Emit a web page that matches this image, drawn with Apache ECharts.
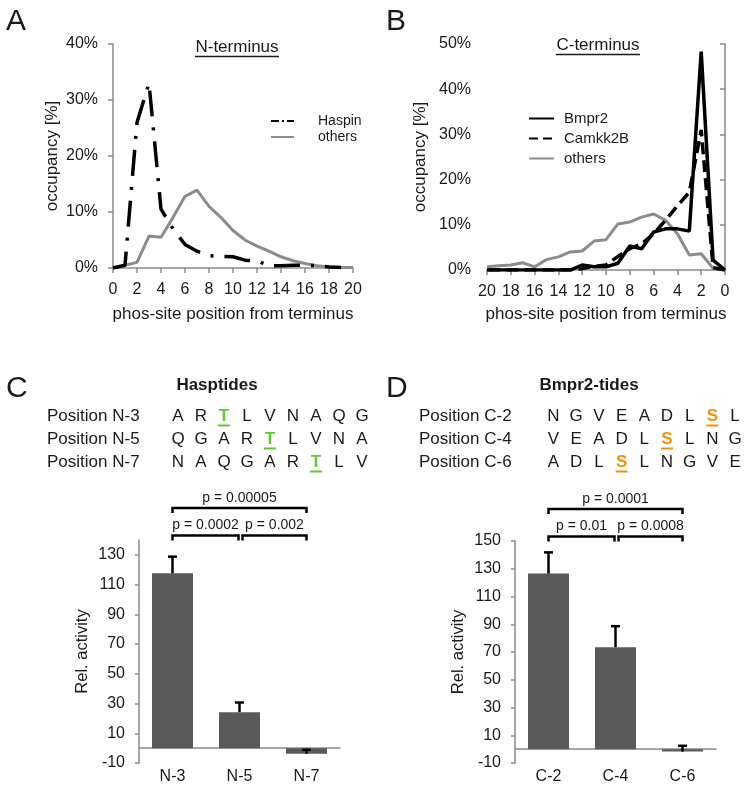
<!DOCTYPE html>
<html><head><meta charset="utf-8">
<script src="https://cdn.jsdelivr.net/npm/echarts@6/dist/echarts.min.js"></script>
<style>html,body{margin:0;padding:0;background:#fff}#c{width:750px;height:787px}</style>
</head><body><div id="c"></div>
<script>
// ---------- DATA ----------
// Panel A (N-terminus): phos-site position 0..20
const nPositions = [0,1,2,3,4,5,6,7,8,9,10,11,12,13,14,15,16,17,18,19,20];
const haspinOccupancy = [0,0.5,26,33,10.5,7,4.2,3,2.2,2.1,2.0,1.4,1.3,0.4,0.4,0.5,0.5,0.4,0.2,0.1];
const othersNOccupancy = [0,0.5,1,5.7,5.5,9,12.8,13.9,11,9,6.7,5,3.9,3,2,1.3,0.8,0.4,0.2,0.1,0.1];
// Panel B (C-terminus): phos-site position 0..20
const cPositions = [0,1,2,3,4,5,6,7,8,9,10,11,12,13,14,15,16,17,18,19,20];
const bmpr2Occupancy = [0,2.2,48.3,8.6,9.1,9.1,8.4,4.7,5.3,1.5,0.7,0.7,1.1,0,0,0,0,0,0,0,0];
const camkk2bOccupancy = [0,0.5,31,17.2,14.2,11,8,5.8,4.7,3,1.1,0.8,0.3,0,0,0,0,0,0,0,0];
const othersCOccupancy = [0,0.4,3.6,3.3,8,11,12.4,11.7,10.6,10.2,6.7,6.4,4.2,4,2.9,2.3,0.7,1.6,1.1,0.95,0.7];
// Panel C (Hasptides)
const hasptideCats = ['N-3','N-5','N-7'];
const hasptideActivity = [117.6,24.2,-3.8];
const hasptideError = [11.2,6.5,2.7];
const hasptideBrackets = [[0,2],[0,1],[1,2]];
const hasptidePValues = ['p = 0.00005','p = 0.0002','p = 0.002'];
const hasptideRowLabels = ['Position N-3','Position N-5','Position N-7'];
const hasptideSeqs = ['ARTLVNAQG','QGARTLVNA','NAQGARTLV'];
const hasptideSite = [2,4,6];
// Panel D (Bmpr2-tides)
const bmprCats = ['C-2','C-4','C-6'];
const bmprActivity = [126.5,73.5,-1.8];
const bmprError = [15.3,15.1,4.2];
const bmprBrackets = [[0,2],[0,1],[1,2]];
const bmprPValues = ['p = 0.0001','p = 0.01','p = 0.0008'];
const bmprRowLabels = ['Position C-2','Position C-4','Position C-6'];
const bmprSeqs = ['NGVEADLSL','VEADLSLNG','ADLSLNGVE'];
const bmprSite = [7,5,3];
// tick labels
const barTicksC = [-10,10,30,50,70,90,110,130];

// ---------- STYLE ----------
const FONT = 'Liberation Sans, Arial, sans-serif';
const AX = '#8a8a8a';
const TXT = '#1a1a1a';
const GRAYLINE = '#8c8c8c';
const BAR = '#595959';

function pairs(xs, ys){ return ys.map((v,i)=>[xs[i], v]); }

function errRenderer(params, api){
  const i = api.value(0), v = api.value(1), e = api.value(2);
  const p0 = api.coord([i, v]), p1 = api.coord([i, v+e]);
  return {type:'group', children:[
    {type:'line', shape:{x1:p0[0],y1:p0[1],x2:p1[0],y2:p1[1]}, style:{stroke:'#000',lineWidth:2.5}},
    {type:'line', shape:{x1:p1[0]-4.5,y1:p1[1],x2:p1[0]+4.5,y2:p1[1]}, style:{stroke:'#000',lineWidth:2.5}}
  ]};
}
function bracketRenderer(labels){
  return function(params, api){
    const a = api.value(0), b = api.value(1);
    const top = params.coordSys.y;
    const span = b - a;
    const yLine = span > 1 ? top - 32 : top - 4.5;
    let xa = api.coord([a, 0])[0], xb = api.coord([b, 0])[0];
    if (span === 1) { if (a > 0) xa += 3; else xb -= 1; }
    return {type:'group', children:[
      {type:'polyline', shape:{points:[[xa,yLine+5],[xa,yLine],[xb,yLine],[xb,yLine+5]]},
        style:{stroke:'#000',lineWidth:2.5,fill:null}},
      {type:'text', style:{text:labels[params.dataIndex], x:(xa+xb)/2, y:yLine-10,
        align:'center', verticalAlign:'middle', font:'14px '+FONT, fill:TXT}}
    ]};
  };
}

// sequence graphics
function seqGraphics(title, titleX, labelX, colX0, colStep, rowLabels, seqs, sites, hl){
  const els = [];
  els.push({type:'text', style:{text:title, x:titleX, y:385, align:'center', verticalAlign:'middle',
    font:'bold 17px '+FONT, fill:TXT}});
  const rowsY = [416.5, 439.5, 462.5];
  rowLabels.forEach((lab, r) => {
    els.push({type:'text', style:{text:lab, x:labelX, y:rowsY[r], align:'left', verticalAlign:'middle',
      font:'17px '+FONT, fill:TXT}});
    seqs[r].split('').forEach((ch, k) => {
      const x = colX0 + k*colStep;
      const isSite = k === sites[r];
      els.push({type:'text', style:{text:ch, x:x, y:rowsY[r], align:'center', verticalAlign:'middle',
        font:(isSite?'bold ':'')+'17px '+FONT, fill:isSite?hl:TXT}});
      if (isSite) els.push({type:'line', shape:{x1:x-6,y1:rowsY[r]+9,x2:x+6,y2:rowsY[r]+9},
        style:{stroke:hl,lineWidth:2}});
    });
  });
  return els;
}

const graphics = [
  {type:'text', style:{text:'A', x:6, y:22, verticalAlign:'middle', font:'30px '+FONT, fill:TXT}},
  {type:'text', style:{text:'B', x:386, y:22, verticalAlign:'middle', font:'30px '+FONT, fill:TXT}},
  {type:'text', style:{text:'C', x:6, y:389, verticalAlign:'middle', font:'30px '+FONT, fill:TXT}},
  {type:'text', style:{text:'D', x:386, y:389, verticalAlign:'middle', font:'30px '+FONT, fill:TXT}},
  {type:'text', style:{text:'N-terminus', x:237, y:47, align:'center', verticalAlign:'middle', font:'17px '+FONT, fill:TXT}},
  {type:'line', shape:{x1:195,y1:56.5,x2:279,y2:56.5}, style:{stroke:TXT,lineWidth:1.5}},
  {type:'text', style:{text:'C-terminus', x:598, y:45, align:'center', verticalAlign:'middle', font:'17px '+FONT, fill:TXT}},
  {type:'line', shape:{x1:556,y1:54.5,x2:640,y2:54.5}, style:{stroke:TXT,lineWidth:1.5}}
].concat(
  seqGraphics('Hasptides', 217, 47, 178, 23.0, hasptideRowLabels, hasptideSeqs, hasptideSite, '#5fc832'),
  seqGraphics('Bmpr2-tides', 589, 419, 553.5, 22.7, bmprRowLabels, bmprSeqs, bmprSite, '#f0900f')
);

const axisLine = {lineStyle:{color:AX, width:1.5}};
const tickStyle = {lineStyle:{color:AX, width:1.5}};
const lblStyle = {color:TXT, fontSize:16, fontFamily:FONT};
const nameStyle = {color:TXT, fontSize:17, fontFamily:FONT};
const hideSym = {opacity:0, color:'rgba(0,0,0,0)', borderWidth:0};

const option = {
  animation:false,
  backgroundColor:'#fff',
  textStyle:{fontFamily:FONT},
  grid:[
    {left:113, top:44, width:240, height:224, outerBoundsMode:'none', containLabel:false},
    {left:487, top:44, width:238, height:226, outerBoundsMode:'none', containLabel:false},
    {left:139, top:540, width:201, height:223, outerBoundsMode:'none', containLabel:false},
    {left:515, top:541, width:201, height:222, outerBoundsMode:'none', containLabel:false}
  ],
  legend:[
    {left:265, top:109, orient:'vertical', itemWidth:23, itemHeight:14, itemGap:2, selectedMode:false,
      itemStyle:hideSym,
      textStyle:{color:TXT, fontSize:14, fontFamily:FONT, padding:[0,0,0,19]},
      data:[{name:'Haspin', lineStyle:{type:[8,3,2,3]}}, {name:'others'}]},
    {left:523, top:106, orient:'vertical', itemWidth:25, itemHeight:14, itemGap:5, selectedMode:false,
      itemStyle:hideSym,
      textStyle:{color:TXT, fontSize:15, fontFamily:FONT, padding:[0,0,0,5]},
      data:[{name:'Bmpr2'}, {name:'Camkk2B', lineStyle:{type:[9,5]}}, {name:'others'}]}
  ],
  xAxis:[
    {gridIndex:0, type:'value', min:0, max:20, interval:2, splitLine:{show:false},
      axisLine:axisLine, axisTick:Object.assign({length:5}, tickStyle), axisLabel:Object.assign({margin:14}, lblStyle),
      name:'phos-site position from terminus', nameLocation:'middle', nameGap:38, nameTextStyle:nameStyle},
    {gridIndex:1, type:'value', min:0, max:20, interval:2, inverse:true, splitLine:{show:false},
      axisLine:axisLine, axisTick:Object.assign({length:5}, tickStyle), axisLabel:Object.assign({margin:14}, lblStyle),
      name:'phos-site position from terminus', nameLocation:'middle', nameGap:36, nameTextStyle:nameStyle},
    {gridIndex:2, type:'category', data:hasptideCats,
      axisLine:Object.assign({onZero:true}, axisLine), axisTick:Object.assign({length:6}, tickStyle),
      axisLabel:Object.assign({margin:6}, lblStyle)},
    {gridIndex:3, type:'category', data:bmprCats,
      axisLine:Object.assign({onZero:true}, axisLine), axisTick:Object.assign({length:6}, tickStyle),
      axisLabel:Object.assign({margin:6}, lblStyle)}
  ],
  yAxis:[
    {gridIndex:0, type:'value', min:0, max:40, interval:10, splitLine:{show:false},
      axisLine:Object.assign({show:true}, axisLine), axisTick:Object.assign({show:true, length:5}, tickStyle),
      axisLabel:Object.assign({margin:15, formatter:'{value}%'}, lblStyle),
      name:'occupancy [%]', nameLocation:'middle', nameGap:52, nameTextStyle:nameStyle},
    {gridIndex:1, type:'value', min:0, max:50, interval:10, splitLine:{show:false},
      axisLine:Object.assign({show:true}, axisLine), axisTick:Object.assign({show:true, length:5}, tickStyle),
      axisLabel:Object.assign({margin:16, formatter:'{value}%'}, lblStyle),
      name:'occupancy [%]', nameLocation:'middle', nameGap:58, nameTextStyle:nameStyle},
    {gridIndex:2, type:'value', min:-10, max:140, interval:20, splitLine:{show:false},
      axisLine:Object.assign({show:true}, axisLine),
      axisTick:Object.assign({show:true, length:4, customValues:barTicksC}, tickStyle),
      axisLabel:Object.assign({margin:14, customValues:barTicksC}, lblStyle),
      name:'Rel. activity', nameLocation:'middle', nameGap:48, nameTextStyle:Object.assign({}, nameStyle, {fontSize:16.5})},
    {gridIndex:3, type:'value', min:-10, max:150, interval:20, splitLine:{show:false},
      axisLine:Object.assign({show:true}, axisLine), axisTick:Object.assign({show:true, length:4}, tickStyle),
      axisLabel:Object.assign({margin:14}, lblStyle),
      name:'Rel. activity', nameLocation:'middle', nameGap:48, nameTextStyle:Object.assign({}, nameStyle, {fontSize:16.5})}
  ],
  series:[
    {name:'others', type:'line', xAxisIndex:0, yAxisIndex:0, symbol:'none', data:pairs(nPositions, othersNOccupancy),
      lineStyle:{color:GRAYLINE, width:3}, itemStyle:{color:GRAYLINE}},
    {name:'Haspin', type:'line', xAxisIndex:0, yAxisIndex:0, symbol:'none', data:pairs(nPositions, haspinOccupancy),
      lineStyle:{color:'#000', width:3.5, type:[26,11,3,11]}, itemStyle:{color:'#000'}},
    {name:'others', type:'line', xAxisIndex:1, yAxisIndex:1, symbol:'none', data:pairs(cPositions, othersCOccupancy),
      lineStyle:{color:GRAYLINE, width:3}, itemStyle:{color:GRAYLINE}},
    {name:'Camkk2B', type:'line', xAxisIndex:1, yAxisIndex:1, symbol:'none', data:pairs(cPositions, camkk2bOccupancy),
      lineStyle:{color:'#000', width:3.5, type:[12,6]}, itemStyle:{color:'#000'}},
    {name:'Bmpr2', type:'line', xAxisIndex:1, yAxisIndex:1, symbol:'none', data:pairs(cPositions, bmpr2Occupancy),
      lineStyle:{color:'#000', width:3.5}, itemStyle:{color:'#000'}},
    {type:'bar', xAxisIndex:2, yAxisIndex:2, data:hasptideActivity, barWidth:41, itemStyle:{color:BAR}},
    {type:'custom', xAxisIndex:2, yAxisIndex:2, renderItem:errRenderer, z:5,
      data:hasptideActivity.map((v,i)=>[i, v, hasptideError[i]]), encode:{x:0, y:1}},
    {type:'custom', xAxisIndex:2, yAxisIndex:2, renderItem:bracketRenderer(hasptidePValues), clip:false, z:5,
      data:hasptideBrackets, encode:{x:[0,1]}},
    {type:'bar', xAxisIndex:3, yAxisIndex:3, data:bmprActivity, barWidth:41, itemStyle:{color:BAR}},
    {type:'custom', xAxisIndex:3, yAxisIndex:3, renderItem:errRenderer, z:5,
      data:bmprActivity.map((v,i)=>[i, v, bmprError[i]]), encode:{x:0, y:1}},
    {type:'custom', xAxisIndex:3, yAxisIndex:3, renderItem:bracketRenderer(bmprPValues), clip:false, z:5,
      data:bmprBrackets, encode:{x:[0,1]}}
  ],
  graphic:graphics
};
const chart = echarts.init(document.getElementById('c'), null, {renderer:'canvas'});
chart.setOption(option);
</script>
</body></html>
